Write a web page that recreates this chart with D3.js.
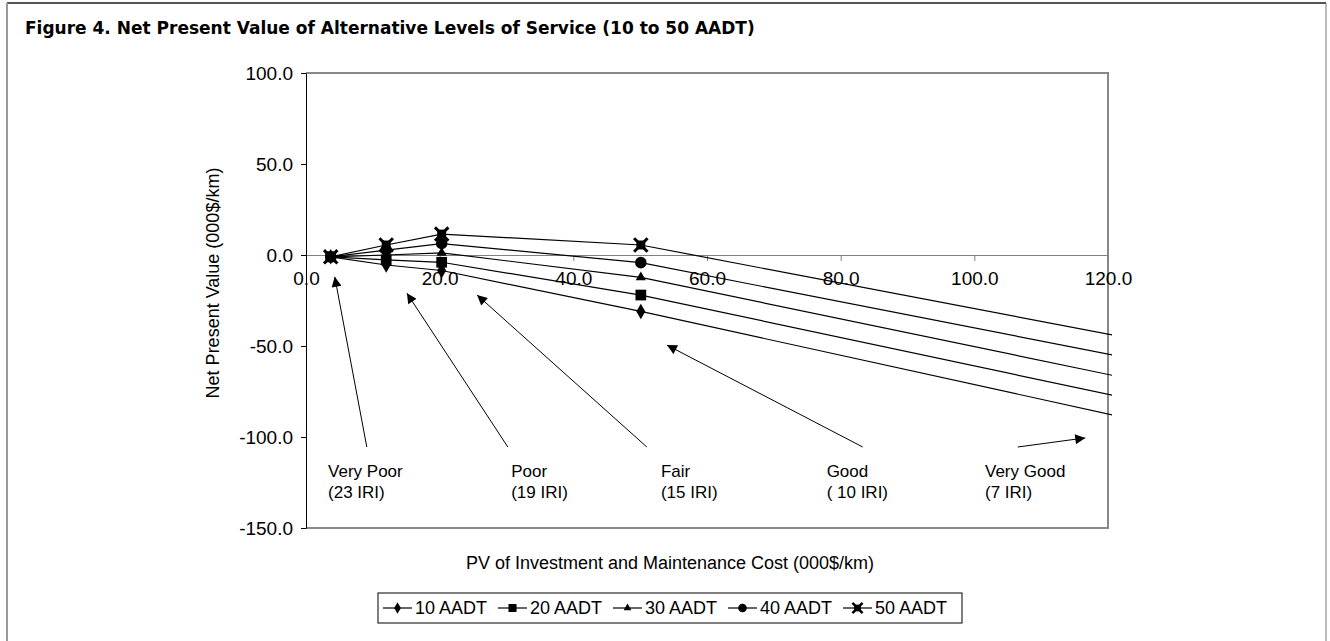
<!DOCTYPE html>
<html>
<head>
<meta charset="utf-8">
<script src="https://cdn.jsdelivr.net/npm/d3@7"></script>
<style>
  body { margin: 0; background: #fff; }
  text { font-family: "Liberation Sans", Arial, sans-serif; fill: #000; }
</style>
</head>
<body>
<div id="container"></div>
<script>
/**
 * CONSTANTS AND GLOBALS
 * */
const width = 1330,
  height = 641,
  margin = {top: 73, bottom: 113, left: 306, right: 222};

// chart values
const seriesNames = ["10 AADT", "20 AADT", "30 AADT", "40 AADT", "50 AADT"];
const costX = [3.7, 12.0, 20.3, 50.1, 150]; // last point lies past the axis end
const npv10 = [-1, -5.5, -8.5, -31, -111.5];
const npv20 = [-1, -2.7, -4, -22, -100];
const npv30 = [-1, 0, 1.2, -12.3, -88.5];
const npv40 = [-1, 2.7, 6.3, -4.2, -76];
const npv50 = [-1, 5.5, 11.5, 5.5, -64.5];
const xTicks = [0, 20, 40, 60, 80, 100, 120];
const yTicks = [100, 50, 0, -50, -100, -150];

// level-of-service notes, in chart units
const notes = [
  {lines: ["Very Poor", "(23 IRI)"], at: [3.3, -122], tip: [4.3, -12], tail: [9.1, -105.5]},
  {lines: ["Poor", "(19 IRI)"], at: [30.7, -122], tip: [15.1, -21], tail: [30.2, -105.5]},
  {lines: ["Fair", "(15 IRI)"], at: [53.1, -122], tip: [25.6, -22], tail: [51.0, -105.5]},
  {lines: ["Good", "( 10 IRI)"], at: [77.9, -122], tip: [54.0, -49.5], tail: [83.3, -105.5]},
  {lines: ["Very Good", "(7 IRI)"], at: [101.6, -122], tip: [116.6, -100.5], tail: [106.5, -105.5]}
];

const series = [npv10, npv20, npv30, npv40, npv50].map((vals, i) => ({
  name: seriesNames[i],
  points: vals.map((v, j) => ({x: costX[j], y: v}))
}));

const fmt = v => d3.format(".1f")(v).replace("\u2212", "-");

/**
 * SHAPES
 * */
function markerPath(i, s) {
  const sym = [d3.symbolDiamond, d3.symbolSquare, d3.symbolTriangle, d3.symbolCircle, d3.symbolSquare][i];
  const size = [70, 115, 45, 105, 80][i];
  return d3.symbol(sym, size * s * s)();
}

/**
 * DRAW
 * */
const svg = d3.select("#container")
  .append("svg")
  .attr("width", width)
  .attr("height", height);

// outer frame
svg.append("line").attr("x1", 7).attr("x2", 1326).attr("y1", 3).attr("y2", 3)
  .attr("stroke", "#555").attr("stroke-width", 2);
svg.append("line").attr("x1", 7).attr("x2", 7).attr("y1", 3).attr("y2", height)
  .attr("stroke", "#999").attr("stroke-width", 2);
svg.append("line").attr("x1", 1326).attr("x2", 1326).attr("y1", 3).attr("y2", height)
  .attr("stroke", "#777").attr("stroke-width", 1);

svg.append("text")
  .attr("x", 25).attr("y", 34)
  .style("font-family", "'DejaVu Sans', Verdana, sans-serif")
  .style("font-weight", "bold")
  .style("font-size", "17px")
  .text("Figure 4. Net Present Value of Alternative Levels of Service (10 to 50 AADT)");

const x = d3.scaleLinear().domain([0, 120]).range([margin.left, width - margin.right]);
const y = d3.scaleLinear().domain([-150, 100]).range([height - margin.bottom, margin.top]);

svg.append("clipPath").attr("id", "plot-clip")
  .append("rect")
  .attr("x", x(0) - 8).attr("y", y(100))
  .attr("width", x(120) - x(0) + 12).attr("height", y(-150) - y(100));

// plot border (top, right, bottom)
svg.append("path")
  .attr("d", `M${x(0)},${y(100)}H${x(120)}V${y(-150)}H${x(0)}`)
  .attr("fill", "none").attr("stroke", "#888").attr("stroke-width", 2);

// zero line with x axis ticks
const xAxis = svg.append("g")
  .attr("transform", `translate(0,${y(0)})`)
  .call(d3.axisBottom(x).tickValues(xTicks).tickFormat(fmt).tickSize(6).tickSizeOuter(0));
xAxis.select(".domain").attr("stroke", "#808080");
xAxis.selectAll(".tick line").attr("stroke", "#808080");
xAxis.selectAll("text").style("font-size", "19px").attr("dy", "1.1em");

const yAxis = svg.append("g")
  .attr("transform", `translate(${x(0)},0)`)
  .call(d3.axisLeft(y).tickValues(yTicks).tickFormat(fmt).tickSize(5).tickSizeOuter(0));
yAxis.select(".domain").attr("stroke", "#000");
yAxis.selectAll("text").style("font-size", "19px").attr("x", -13);

svg.append("text")
  .attr("transform", `translate(219,283) rotate(-90)`)
  .attr("text-anchor", "middle")
  .style("font-size", "18px")
  .text("Net Present Value (000$/km)");

svg.append("text")
  .attr("x", 670).attr("y", 569)
  .attr("text-anchor", "middle")
  .style("font-size", "18px")
  .text("PV of Investment and Maintenance Cost (000$/km)");

// series
const line = d3.line().x(d => x(d.x)).y(d => y(d.y));
const plot = svg.append("g").attr("clip-path", "url(#plot-clip)");

plot.selectAll(".series")
  .data(series)
  .join("path")
  .attr("class", "series")
  .attr("d", d => line(d.points))
  .attr("fill", "none")
  .attr("stroke", "#000")
  .attr("stroke-width", 1.2);

series.forEach((s, i) => {
  const g = plot.append("g");
  const shown = s.points.filter(p => p.x <= 120);
  g.selectAll("path")
    .data(shown)
    .join("path")
    .attr("transform", p => `translate(${x(p.x)},${y(p.y)})`)
    .attr("d", markerPath(i, 1))
    .attr("fill", "#000");
  if (i === 4) {
    g.selectAll(".xm")
      .data(shown)
      .join("path")
      .attr("class", "xm")
      .attr("transform", p => `translate(${x(p.x)},${y(p.y)})`)
      .attr("d", d3.symbol(d3.symbolX, 120)())
      .attr("fill", "none").attr("stroke", "#000").attr("stroke-width", 3);
  }
});

// notes with arrows
svg.append("defs").append("marker")
  .attr("id", "arrow")
  .attr("viewBox", "0 0 10 10")
  .attr("refX", 10).attr("refY", 5)
  .attr("markerWidth", 12).attr("markerHeight", 10)
  .attr("markerUnits", "userSpaceOnUse")
  .attr("orient", "auto")
  .append("path").attr("d", "M0,0L10,5L0,10Z").attr("fill", "#000");

const noteG = svg.selectAll(".note").data(notes).join("g").attr("class", "note");
noteG.append("line")
  .attr("x1", d => x(d.tail[0])).attr("y1", d => y(d.tail[1]))
  .attr("x2", d => x(d.tip[0])).attr("y2", d => y(d.tip[1]))
  .attr("stroke", "#000").attr("stroke-width", 1)
  .attr("marker-end", "url(#arrow)");
noteG.append("text")
  .attr("x", d => x(d.at[0])).attr("y", d => y(d.at[1]))
  .style("font-size", "17px")
  .selectAll("tspan")
  .data(d => d.lines.map(l => ({l, x0: x(d.at[0])})))
  .join("tspan")
  .attr("x", t => t.x0)
  .attr("dy", (t, i) => i ? 21 : 0)
  .text(t => t.l);

// legend
const legend = svg.append("g").attr("transform", "translate(378,593)");
legend.append("rect")
  .attr("width", 584).attr("height", 30)
  .attr("fill", "#fff").attr("stroke", "#000").attr("stroke-width", 1);
const item = legend.selectAll(".item")
  .data(series)
  .join("g")
  .attr("class", "item")
  .attr("transform", (d, i) => `translate(${5 + i * 115},15)`);
item.append("line").attr("x1", 0).attr("x2", 29).attr("stroke", "#000").attr("stroke-width", 1.2);
item.append("path")
  .attr("transform", "translate(14.5,0)")
  .attr("d", (d, i) => markerPath(i, 0.75))
  .attr("fill", "#000");
item.filter((d, i) => i === 4).append("path")
  .attr("transform", "translate(14.5,0)")
  .attr("d", d3.symbol(d3.symbolX, 68)())
  .attr("fill", "none").attr("stroke", "#000").attr("stroke-width", 2.5);
item.append("text")
  .attr("x", 32).attr("dy", "0.36em")
  .style("font-size", "18px")
  .text(d => d.name);
</script>
</body>
</html>
